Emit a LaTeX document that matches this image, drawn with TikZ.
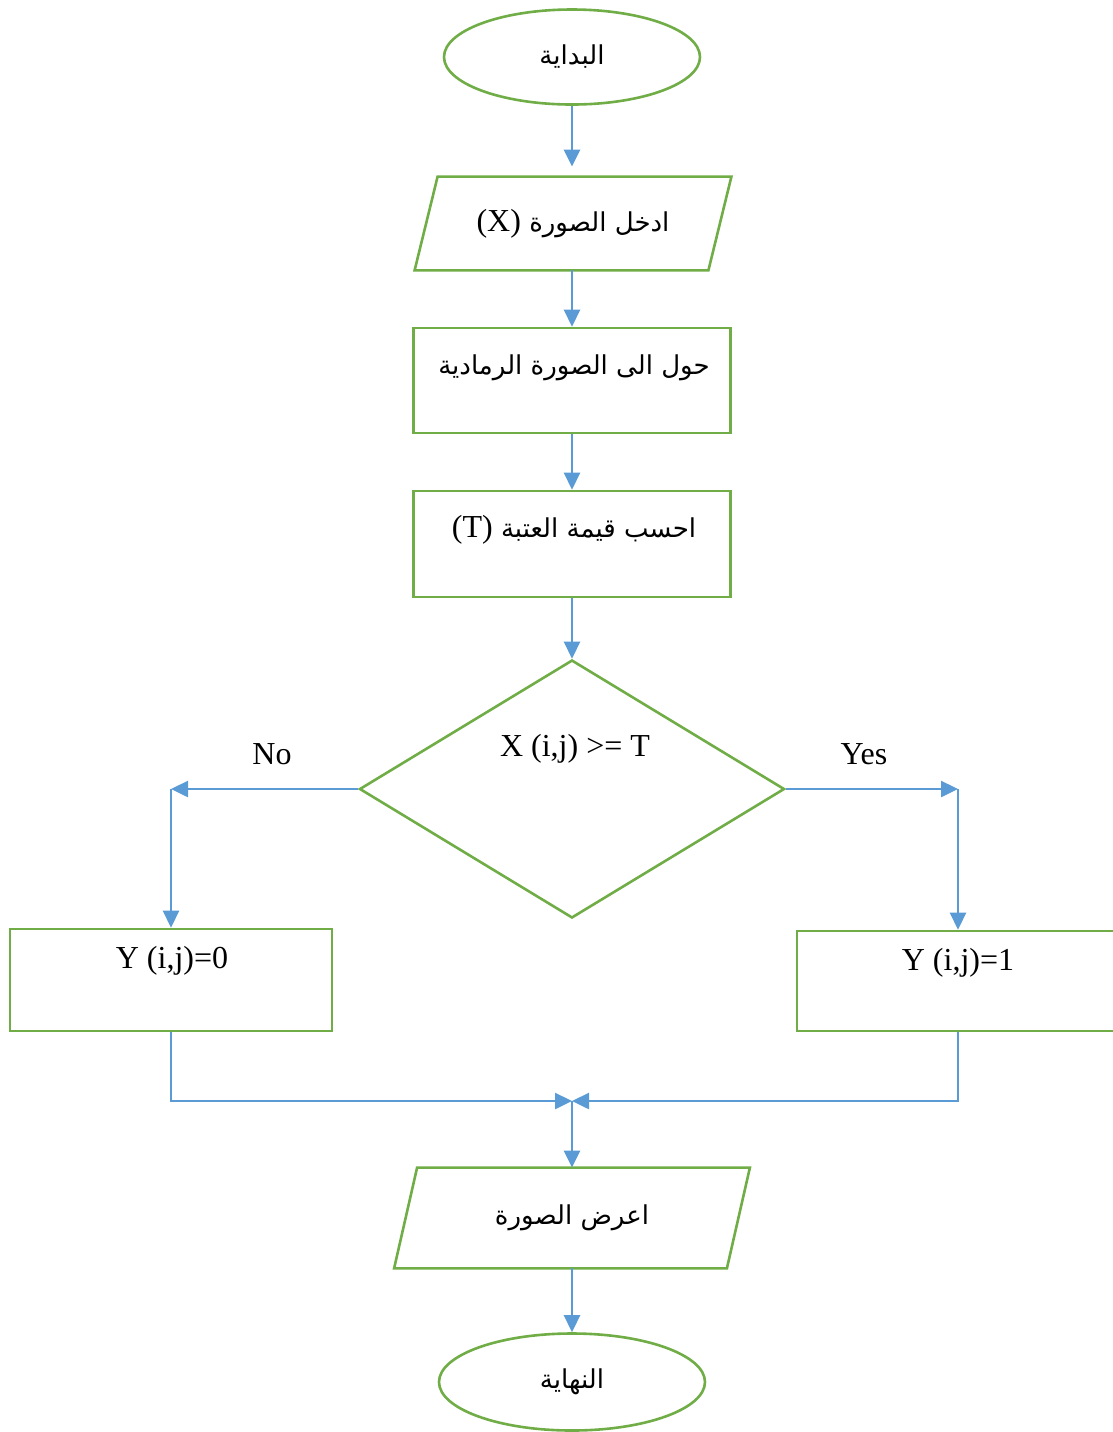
\documentclass[tikz,border=0pt]{standalone}
\usepackage{fontspec}
\setmainfont{Liberation Serif}
\newfontfamily\arabicfont[Script=Arabic]{DejaVu Sans}
\TeXXeTstate=1
\usetikzlibrary{shapes.geometric,arrows.meta}
\definecolor{flowgreen}{RGB}{112,173,71}
\definecolor{flowblue}{RGB}{91,155,213}
\newcommand{\arabictxt}[1]{{\arabicfont\fontsize{13}{16}\selectfont\beginR #1\endR}}
\begin{document}
\begin{tikzpicture}[x=0.5pt,y=-0.5pt,
    every node/.style={font=\fontsize{16}{19}\selectfont},
    term/.style={draw=flowgreen,line width=1.3pt,ellipse,inner sep=0pt},
    io/.style={rectangle,inner sep=0pt},
    iobox/.style={draw=flowgreen,line width=1.3pt,line join=miter},
    proc/.style={draw=flowgreen,line width=1.3pt,rectangle,inner sep=0pt},
    test/.style={draw=flowgreen,line width=1.3pt,diamond,inner sep=0pt},
    link/.style={draw=flowblue,line width=1.25pt,-{Triangle[length=8.5pt,width=8pt]}}]
    \useasboundingbox (0,0) rectangle (1113,1432);
    % main column
    \node[term,minimum width=128pt,minimum height=47.5pt] (start) at (572,57) {\arabictxt{البداية}};
    \node[io,minimum width=158pt,minimum height=46.5pt] (readimg) at (573,223.5)
        {\arabictxt{ادخل الصورة \beginL{\rmfamily\fontsize{16}{19}\selectfont(X)}\endL}};
    \node[proc,minimum width=158.5pt,minimum height=52.5pt] (gray) at (572,380.5) {};
    \node (grayt) at (574,368) {\arabictxt{حول الى الصورة الرمادية}};
    \node[proc,minimum width=158.5pt,minimum height=53pt] (thresh) at (572,544) {};
    \node (thresht) at (574,530) {\arabictxt{احسب قيمة العتبة \beginL{\rmfamily\fontsize{16}{19}\selectfont(T)}\endL}};
    \node[test,minimum width=212.5pt,minimum height=129pt] (cmp) at (572,789) {};
    \node (cmpt) at (575,749) {X (i,j) >= T};
    \node (no) at (272,754) {No};
    \node (yes) at (864,754) {Yes};
    \coordinate (nobend) at (171,789);
    \coordinate (yesbend) at (958,789);
    % branches
    \node[proc,minimum width=161pt,minimum height=51pt] (zero) at (171,980) {};
    \node (zerot) at (172,961) {Y (i,j)=0};
    \node[proc,minimum width=161pt,minimum height=50pt] (one) at (958,981) {};
    \node (onet) at (958,963) {Y (i,j)=1};
    \coordinate (merge) at (572,1101);
    \node[io,minimum width=177.5pt,minimum height=50pt] (showimg) at (572,1218)
        {\arabictxt{اعرض الصورة}};
    \node[term,minimum width=133pt,minimum height=48.5pt] (stop) at (572,1382) {\arabictxt{النهاية}};
    % slanted input/output boxes
    \foreach \n in {readimg,showimg}
    \draw[iobox] ([xshift=11.5pt]\n.north west) -- (\n.north east)
        -- ([xshift=-11.5pt]\n.south east) -- (\n.south west) -- cycle;
    % connectors
    \draw[link,shorten >=5pt] (start) -- (start |- readimg.north);
    \foreach \a/\b in {gray/thresh,thresh/cmp,showimg/stop}
    \draw[link] (\a) -- (\b);
    \draw[link] (readimg.south -| gray) -- (gray);
    \draw[link] (merge) -- (merge |- showimg.north);
    \draw[link] (cmp.west) -- (nobend);
    \draw[link] (nobend) -- (zero);
    \draw[link] (cmp.east) -- (yesbend);
    \draw[link] (yesbend) -- (one);
    \draw[link] (zero) |- (merge);
    \draw[link] (one) |- (merge);
\end{tikzpicture}
\end{document}
